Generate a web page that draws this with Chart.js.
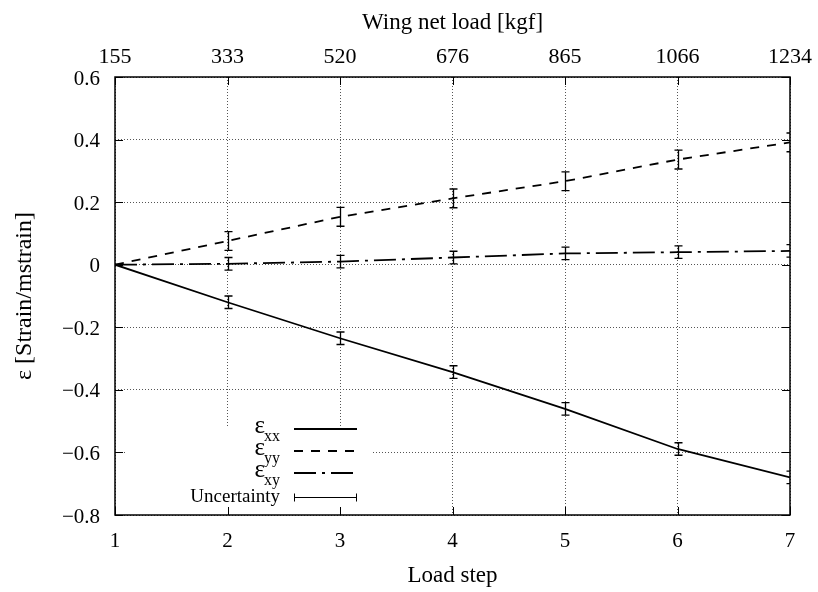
<!DOCTYPE html>
<html>
<head>
<meta charset="utf-8">
<script src="https://cdn.jsdelivr.net/npm/chart.js@4.4.1/dist/chart.umd.min.js"></script>
<style>
    html, body { margin: 0; padding: 0; background: #fff; }
</style>
</head>
<body>
<canvas id="chartStrain" width="818" height="592"></canvas>
<script>
// ====== Dados ======
const loadSteps = [1, 2, 3, 4, 5, 6, 7];
const netLoadKgf = ["155", "333", "520", "676", "865", "1066", "1234"];
const epsXX = [0, -0.120, -0.235, -0.343, -0.461, -0.589, -0.680];
const epsYY = [0, 0.076, 0.153, 0.212, 0.267, 0.336, 0.391];
const epsXY = [0, 0.003, 0.010, 0.023, 0.036, 0.040, 0.044];
const errXX = [0, 0.020, 0.020, 0.020, 0.020, 0.020, 0.020];
const errYY = [0, 0.030, 0.030, 0.030, 0.030, 0.030, 0.030];
const errXY = [0, 0.020, 0.020, 0.020, 0.020, 0.020, 0.020];

const serif = "'Liberation Serif', 'Times New Roman', serif";
const FONT_SIZE = 21;
const TITLE_SIZE = 23;

function pontos(valores) {
    return loadSteps.map((x, i) => ({ x: x, y: valores[i] }));
}

function formatY(v) {
    if (Math.abs(v) < 1e-9) return "0";
    return v.toFixed(1).replace("-", "\u2212");
}

// eixo horizontal com altura fixa e sem folga extra para os rótulos das pontas
function fixHorizontal(s) {
    s.height = 77;
    s.paddingLeft = 0;
    s.paddingRight = 0;
}

// ====== Barras de erro, moldura, marcas e legenda (estilo gnuplot) ======
const gnuplotStyle = {
    id: "gnuplotStyle",
    afterDatasetsDraw(chart) {
        const { ctx, chartArea: a, scales } = chart;
        const sx = scales.x, sy = scales.y;

        // barras de erro
        ctx.save();
        ctx.beginPath();
        ctx.rect(a.left, a.top, a.right - a.left, a.bottom - a.top);
        ctx.clip();
        ctx.strokeStyle = "#000";
        ctx.lineWidth = 1.3;
        ctx.setLineDash([]);
        chart.data.datasets.forEach(ds => {
            ds.data.forEach((p, i) => {
                const e = ds.errors[i];
                if (!e) return;
                const x = Math.round(sx.getPixelForValue(p.x)) + 0.5;
                const y1 = sy.getPixelForValue(p.y - e);
                const y2 = sy.getPixelForValue(p.y + e);
                ctx.beginPath();
                ctx.moveTo(x, y1); ctx.lineTo(x, y2);
                ctx.moveTo(x - 4, y1); ctx.lineTo(x + 4, y1);
                ctx.moveTo(x - 4, y2); ctx.lineTo(x + 4, y2);
                ctx.stroke();
            });
        });
        ctx.restore();

        // caixa da legenda (opaca, cobre a grade)
        const box = { left: 125, top: 426, right: 372, bottom: a.bottom };
        ctx.save();
        ctx.fillStyle = "#fff";
        ctx.fillRect(box.left, box.top, box.right - box.left, box.bottom - box.top);

        const textRight = 280, sampleL = 294, sampleR = 357;
        const rows = [429, 451, 473];
        chart.data.datasets.forEach((ds, i) => {
            const y = rows[i];
            ctx.strokeStyle = "#000";
            ctx.lineWidth = ds.borderWidth;
            ctx.setLineDash(ds.borderDash || []);
            ctx.beginPath();
            ctx.moveTo(sampleL, y); ctx.lineTo(sampleR, y);
            ctx.stroke();
            // ε + subscrito
            ctx.fillStyle = "#000";
            ctx.textBaseline = "alphabetic";
            ctx.textAlign = "right";
            ctx.font = "16px " + serif;
            const sub = ds.label.slice(1);
            ctx.fillText(sub, textRight, y + 12);
            const subW = ctx.measureText(sub).width;
            ctx.font = "25px " + serif;
            ctx.fillText(ds.label[0], textRight - subW + 1, y + 4);
        });
        // incerteza
        const yu = 497.5;
        ctx.setLineDash([]);
        ctx.lineWidth = 1;
        ctx.strokeStyle = "#000";
        ctx.beginPath();
        ctx.moveTo(sampleL, yu); ctx.lineTo(sampleR, yu);
        ctx.moveTo(sampleL + 0.5, yu - 4); ctx.lineTo(sampleL + 0.5, yu + 4);
        ctx.moveTo(sampleR - 0.5, yu - 4); ctx.lineTo(sampleR - 0.5, yu + 4);
        ctx.stroke();
        ctx.font = "19px " + serif;
        ctx.textAlign = "right";
        ctx.textBaseline = "middle";
        ctx.fillText("Uncertainty", textRight, yu);
        ctx.restore();

        // moldura
        ctx.save();
        ctx.strokeStyle = "#000";
        ctx.lineWidth = 1.5;
        ctx.setLineDash([]);
        ctx.strokeRect(a.left, a.top, a.right - a.left, a.bottom - a.top);

        // marcas internas nos quatro lados
        const tick = 8;
        ctx.lineWidth = 1;
        ctx.beginPath();
        sx.ticks.forEach(t => {
            const x = Math.round(sx.getPixelForValue(t.value)) + 0.5;
            ctx.moveTo(x, a.bottom); ctx.lineTo(x, a.bottom - tick);
            ctx.moveTo(x, a.top); ctx.lineTo(x, a.top + tick);
        });
        sy.ticks.forEach(t => {
            const y = Math.round(sy.getPixelForValue(t.value)) + 0.5;
            ctx.moveTo(a.left, y); ctx.lineTo(a.left + tick, y);
            ctx.moveTo(a.right, y); ctx.lineTo(a.right - tick, y);
        });
        ctx.stroke();
        ctx.restore();
    }
};

const gridDots = { color: "#555", lineWidth: 1, drawTicks: false };

new Chart(document.getElementById("chartStrain"), {
    type: "line",
    data: {
        datasets: [
            { label: "\u03b5xx", data: pontos(epsXX), errors: errXX, borderColor: "#000", borderWidth: 1.8, borderDash: [] },
            { label: "\u03b5yy", data: pontos(epsYY), errors: errYY, borderColor: "#000", borderWidth: 1.8, borderDash: [9, 8] },
            { label: "\u03b5xy", data: pontos(epsXY), errors: errXY, borderColor: "#000", borderWidth: 1.8, borderDash: [22, 6, 3, 6] }
        ]
    },
    options: {
        responsive: false,
        animation: false,
        devicePixelRatio: 1,
        layout: { padding: { left: 0, right: 28, top: 0, bottom: 0 } },
        elements: { point: { radius: 0 }, line: { tension: 0, fill: false } },
        plugins: { legend: { display: false }, tooltip: { enabled: false } },
        scales: {
            x: {
                type: "linear", position: "bottom", min: 1, max: 7,
                ticks: { stepSize: 1, padding: 14, color: "#000", font: { family: serif, size: FONT_SIZE } },
                grid: gridDots,
                border: { display: false, dash: [1, 2] },
                title: { display: true, text: "Load step", color: "#000", font: { family: serif, size: TITLE_SIZE }, padding: { top: 0, bottom: 2 } },
                afterFit: fixHorizontal
            },
            x2: {
                type: "linear", position: "top", min: 1, max: 7,
                ticks: {
                    stepSize: 1, padding: 7, color: "#000", font: { family: serif, size: 22 },
                    callback: v => netLoadKgf[Math.round(v) - 1]
                },
                grid: { display: false, drawTicks: false },
                border: { display: false },
                title: { display: true, text: "Wing net load [kgf]", color: "#000", font: { family: serif, size: TITLE_SIZE }, padding: { top: 9, bottom: 0 } },
                afterFit: fixHorizontal
            },
            y: {
                min: -0.8, max: 0.6,
                ticks: { stepSize: 0.2, padding: 15, labelOffset: 2, color: "#000", font: { family: serif, size: FONT_SIZE }, callback: formatY },
                grid: gridDots,
                border: { display: false, dash: [1, 2] },
                title: { display: true, text: "\u03b5 [Strain/mstrain]", color: "#000", font: { family: serif, size: 24 }, padding: { top: 10, bottom: 0 } },
                afterFit: s => { s.width = 115; s.paddingTop = 0; s.paddingBottom = 0; }
            }
        }
    },
    plugins: [gnuplotStyle]
});
</script>
</body>
</html>
